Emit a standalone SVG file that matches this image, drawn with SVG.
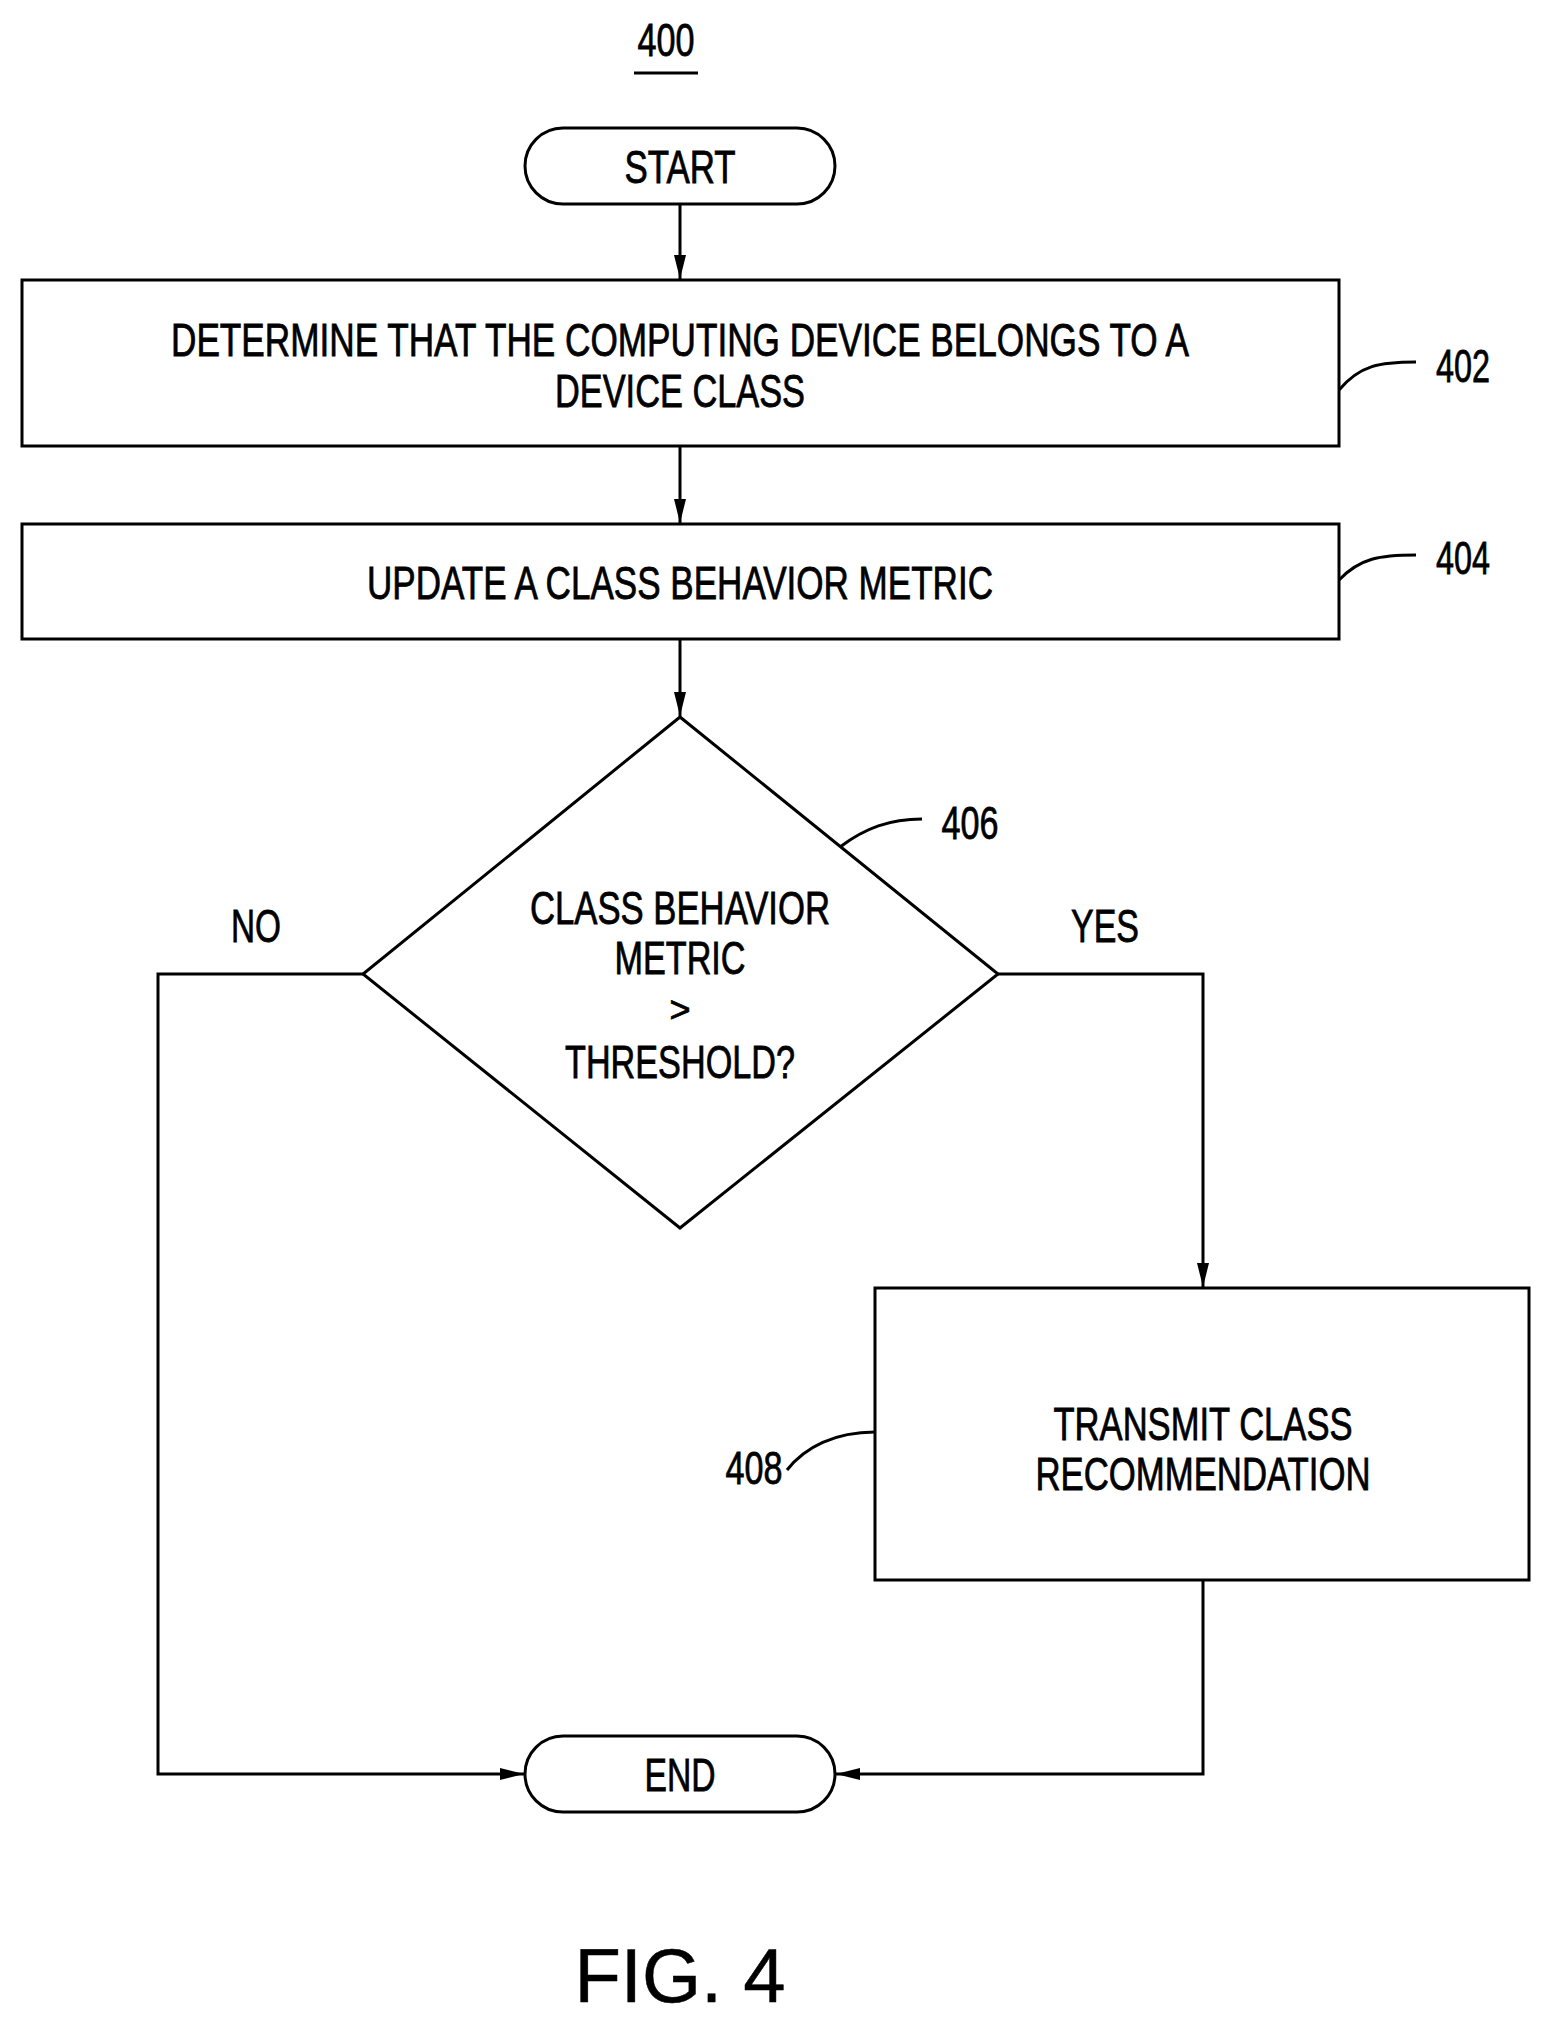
<svg xmlns="http://www.w3.org/2000/svg" width="1549" height="2020" viewBox="0 0 1549 2020">
<style>
.s{fill:#fff;stroke:#000;stroke-width:3}
.l{fill:none;stroke:#000;stroke-width:3}
.t{font-family:"Liberation Sans",Arial,sans-serif;font-size:46px;fill:#000;stroke:#000;stroke-width:0.8;text-anchor:middle}
</style>
<defs><marker id="a" viewBox="0 0 10 10" refX="10" refY="5" markerWidth="24" markerHeight="24" markerUnits="userSpaceOnUse" orient="auto"><path d="M0,2.5L10,5L0,7.5z" fill="#000"/></marker></defs>
<rect width="1549" height="2020" fill="#fff"/>
<g id="title"><text class="t" x="666" y="56" textLength="57" lengthAdjust="spacingAndGlyphs">400</text><line class="l" x1="634" y1="73" x2="698" y2="73" stroke-width="4"/></g>
<g id="connectors">
<line class="l" x1="680" y1="204" x2="680" y2="279" marker-end="url(#a)"/>
<line class="l" x1="680" y1="446" x2="680" y2="523" marker-end="url(#a)"/>
<line class="l" x1="680" y1="639" x2="680" y2="716" marker-end="url(#a)"/>
<polyline class="l" points="363,974 158,974 158,1774 524,1774" marker-end="url(#a)"/>
<polyline class="l" points="998,974 1203,974 1203,1287" marker-end="url(#a)"/>
<polyline class="l" points="1203,1580 1203,1774 836,1774" marker-end="url(#a)"/>
<path class="l" d="M1339,390 C1360,365 1380,362 1416,362"/>
<path class="l" d="M1339,580 C1360,558 1380,555 1416,555"/>
<path class="l" d="M840,847 C865,828 890,819 922,819"/>
<path class="l" d="M787,1470 C805,1447 835,1432 875,1432"/>
</g>
<g id="start"><rect class="s" x="525" y="128" width="310" height="76" rx="38"/><text class="t" x="680" y="183" textLength="111" lengthAdjust="spacingAndGlyphs">START</text></g>
<g id="n402"><rect class="s" x="22" y="280" width="1317" height="166"/>
<text class="t" x="680" y="356" textLength="1018" lengthAdjust="spacingAndGlyphs">DETERMINE  THAT THE COMPUTING DEVICE BELONGS TO A</text>
<text class="t" x="680" y="407" textLength="250" lengthAdjust="spacingAndGlyphs">DEVICE CLASS</text>
<text class="t" x="1463" y="382" textLength="54" lengthAdjust="spacingAndGlyphs">402</text></g>
<g id="n404"><rect class="s" x="22" y="524" width="1317" height="115"/>
<text class="t" x="680" y="599" textLength="626" lengthAdjust="spacingAndGlyphs">UPDATE A CLASS BEHAVIOR METRIC</text>
<text class="t" x="1463" y="574" textLength="54" lengthAdjust="spacingAndGlyphs">404</text></g>
<g id="n406"><polygon class="s" points="680,717 998,974 680,1228 363,974"/>
<text class="t" x="680" y="924" textLength="300" lengthAdjust="spacingAndGlyphs">CLASS BEHAVIOR</text>
<text class="t" x="680" y="974" textLength="131" lengthAdjust="spacingAndGlyphs">METRIC</text>
<text class="t" x="680" y="1022" style="font-size:36px">&gt;</text>
<text class="t" x="680" y="1078" textLength="230" lengthAdjust="spacingAndGlyphs">THRESHOLD?</text>
<text class="t" x="970" y="839" textLength="57" lengthAdjust="spacingAndGlyphs">406</text>
<text class="t" x="256" y="942" textLength="50" lengthAdjust="spacingAndGlyphs">NO</text>
<text class="t" x="1105" y="942" textLength="68" lengthAdjust="spacingAndGlyphs">YES</text></g>
<g id="n408"><rect class="s" x="875" y="1288" width="654" height="292"/>
<text class="t" x="1203" y="1440" textLength="299" lengthAdjust="spacingAndGlyphs">TRANSMIT CLASS</text>
<text class="t" x="1203" y="1490" textLength="335" lengthAdjust="spacingAndGlyphs">RECOMMENDATION</text>
<text class="t" x="754" y="1484" textLength="57" lengthAdjust="spacingAndGlyphs">408</text></g>
<g id="end"><rect class="s" x="525" y="1736" width="310" height="76" rx="38"/><text class="t" x="680" y="1791" textLength="71" lengthAdjust="spacingAndGlyphs">END</text></g>
<g id="fig"><text class="t" x="680" y="2002" style="font-size:76px;stroke-width:0.5">FIG. 4</text></g>
</svg>
